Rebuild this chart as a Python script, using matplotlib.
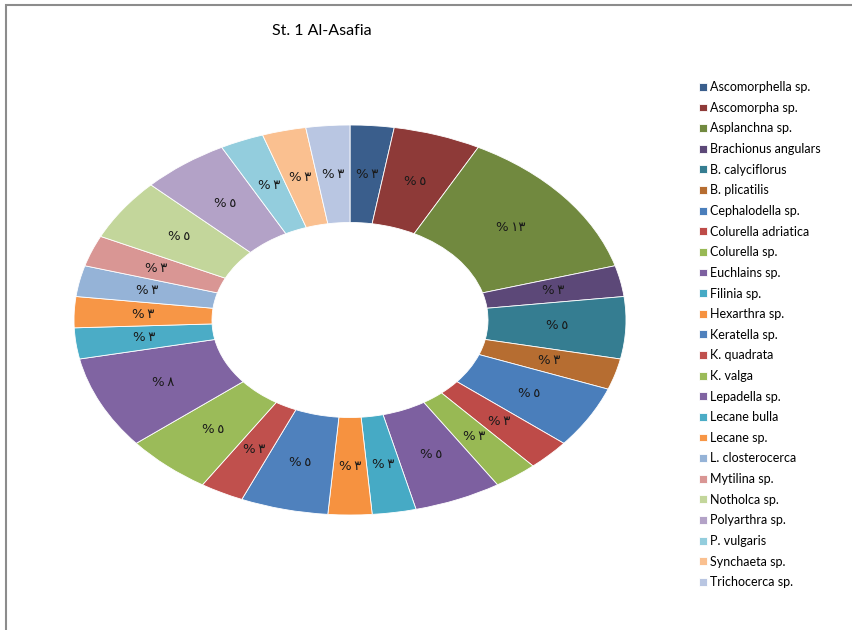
import matplotlib.pyplot as plt
from matplotlib.patches import Rectangle

species = ["Ascomorphella sp.", "Ascomorpha sp.", "Asplanchna sp.", "Brachionus angulars",
           "B. calyciflorus", "B. plicatilis", "Cephalodella sp.", "Colurella adriatica",
           "Colurella sp.", "Euchlains sp.", "Filinia sp.", "Hexarthra sp.", "Keratella sp.",
           "K. quadrata", "K. valga", "Lepadella sp.", "Lecane bulla", "Lecane sp.",
           "L. closterocerca", "Mytilina sp.", "Notholca sp.", "Polyarthra sp.",
           "P. vulgaris", "Synchaeta sp.", "Trichocerca sp."]
counts = [1, 2, 5, 1, 2, 1, 2, 1, 1, 2, 1, 1, 2, 1, 2, 3, 1, 1, 1, 1, 2, 2, 1, 1, 1]
colors = ["#3A5E8C", "#8E3A38", "#71893F", "#5C4878", "#357D91", "#B66D31",
          "#4A7EBB", "#BE4B48", "#98B954", "#7D60A0", "#46AAC5", "#F69240",
          "#4F81BD", "#C0504D", "#9BBB59", "#8064A2", "#4BACC6", "#F79646",
          "#95B3D7", "#D99694", "#C3D69B", "#B3A2C7", "#93CDDD", "#FAC090", "#B9C6E2"]

# percentages written with Arabic-Indic digits, as in the original
arabic = str.maketrans("0123456789", "٠١٢٣٤٥٦٧٨٩")
total = sum(counts)
labels = ["%\u2009" + str(round(c * 100 / total)).translate(arabic) for c in counts]

fig = plt.figure(figsize=(8.53, 6.3), dpi=100)
fig.patches.append(Rectangle((6 / 853, -0.1), 1.2, (630 - 5) / 630 + 0.1, transform=fig.transFigure,
                             fill=False, edgecolor="#8c8c8c", linewidth=1.5))

ax = fig.add_axes([74 / 853, 115 / 630, 552 / 853, 390 / 630])
wedges, texts = ax.pie(counts, colors=colors, startangle=90, counterclock=False,
                       labels=labels, labeldistance=0.75,
                       wedgeprops=dict(width=0.5, edgecolor="white", linewidth=0.6),
                       textprops=dict(fontsize=9.5, color="#1a1a1a", family="DejaVu Sans",
                                      ha="center", va="center"))
ax.set_aspect("auto")
ax.set_xlim(-1, 1)
ax.set_ylim(-1, 1)

fig.text(322 / 853, 1 - 31 / 630, "St. 1 Al-Asafia", fontsize=11.5, family="Lato",
         ha="center", va="center")

fig.legend(wedges, species, loc="upper left", bbox_to_anchor=(688 / 853, 1 - 70 / 630),
           frameon=False, prop=dict(family="Lato", size=9),
           handlelength=0.6, handleheight=0.6, handletextpad=0.3, labelspacing=0.69)

fig.savefig("out.png", dpi=100)
